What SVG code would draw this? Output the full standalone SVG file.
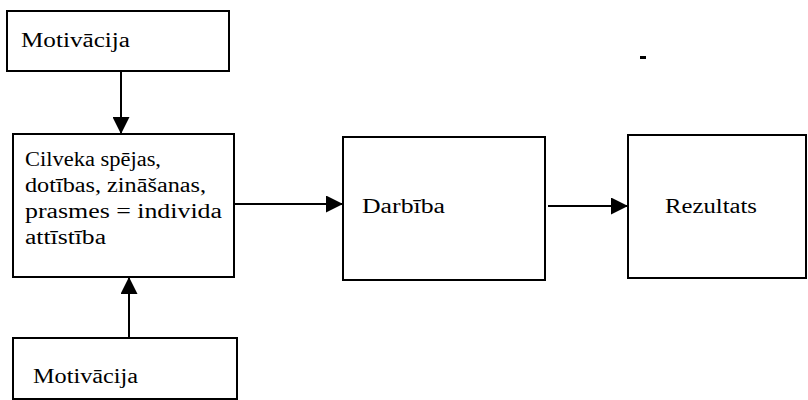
<svg xmlns="http://www.w3.org/2000/svg" width="808" height="400" viewBox="0 0 808 400">
  <style>
    .box { fill: #ffffff; stroke: #000000; stroke-width: 2; }
    .lbl { font-family: "Liberation Serif", "Times New Roman", serif; font-size: 20px; fill: #000000; }
    .link { fill: none; stroke: #000000; stroke-width: 2; marker-end: url(#arrow); }
  </style>
  <defs>
    <marker id="arrow" markerUnits="userSpaceOnUse" markerWidth="17" markerHeight="17" refX="17" refY="8.5" orient="auto">
      <path d="M0,0 L17,8.5 L0,17 Z" fill="#000000"/>
    </marker>
  </defs>
  <rect width="808" height="400" fill="#ffffff"/>

  <g id="motivacija-top">
    <rect class="box" x="7" y="11" width="222" height="60"/>
    <text class="lbl" x="21" y="47" textLength="109" lengthAdjust="spacingAndGlyphs">Motivācija</text>
  </g>

  <g id="spejas">
    <rect class="box" x="13" y="134" width="221" height="143"/>
    <text class="lbl" x="25" y="166" textLength="136" lengthAdjust="spacingAndGlyphs">Cilveka spējas,</text>
    <text class="lbl" x="25" y="192" textLength="181" lengthAdjust="spacingAndGlyphs">dotības, zināšanas,</text>
    <text class="lbl" x="25" y="218" textLength="197" lengthAdjust="spacingAndGlyphs">prasmes = individa</text>
    <text class="lbl" x="25" y="244" textLength="81" lengthAdjust="spacingAndGlyphs">attīstība</text>
  </g>

  <g id="darbiba">
    <rect class="box" x="343" y="137" width="202" height="143"/>
    <text class="lbl" x="362" y="213" textLength="83" lengthAdjust="spacingAndGlyphs">Darbība</text>
  </g>

  <g id="rezultats">
    <rect class="box" x="628" y="135" width="178" height="143"/>
    <text class="lbl" x="665" y="213" textLength="92" lengthAdjust="spacingAndGlyphs">Rezultats</text>
  </g>

  <g id="motivacija-bottom">
    <rect class="box" x="13" y="338" width="224" height="61"/>
    <text class="lbl" x="33" y="383" textLength="105" lengthAdjust="spacingAndGlyphs">Motivācija</text>
  </g>

  <!-- stray mark -->
  <rect x="640" y="56" width="6" height="3" fill="#000000"/>

  <g id="connectors">
    <line class="link" x1="121" y1="71" x2="121" y2="134"/>
    <line class="link" x1="129" y1="338" x2="129" y2="277"/>
    <line class="link" x1="234" y1="204" x2="343" y2="204"/>
    <line class="link" x1="548" y1="206" x2="628" y2="206"/>
  </g>
</svg>
